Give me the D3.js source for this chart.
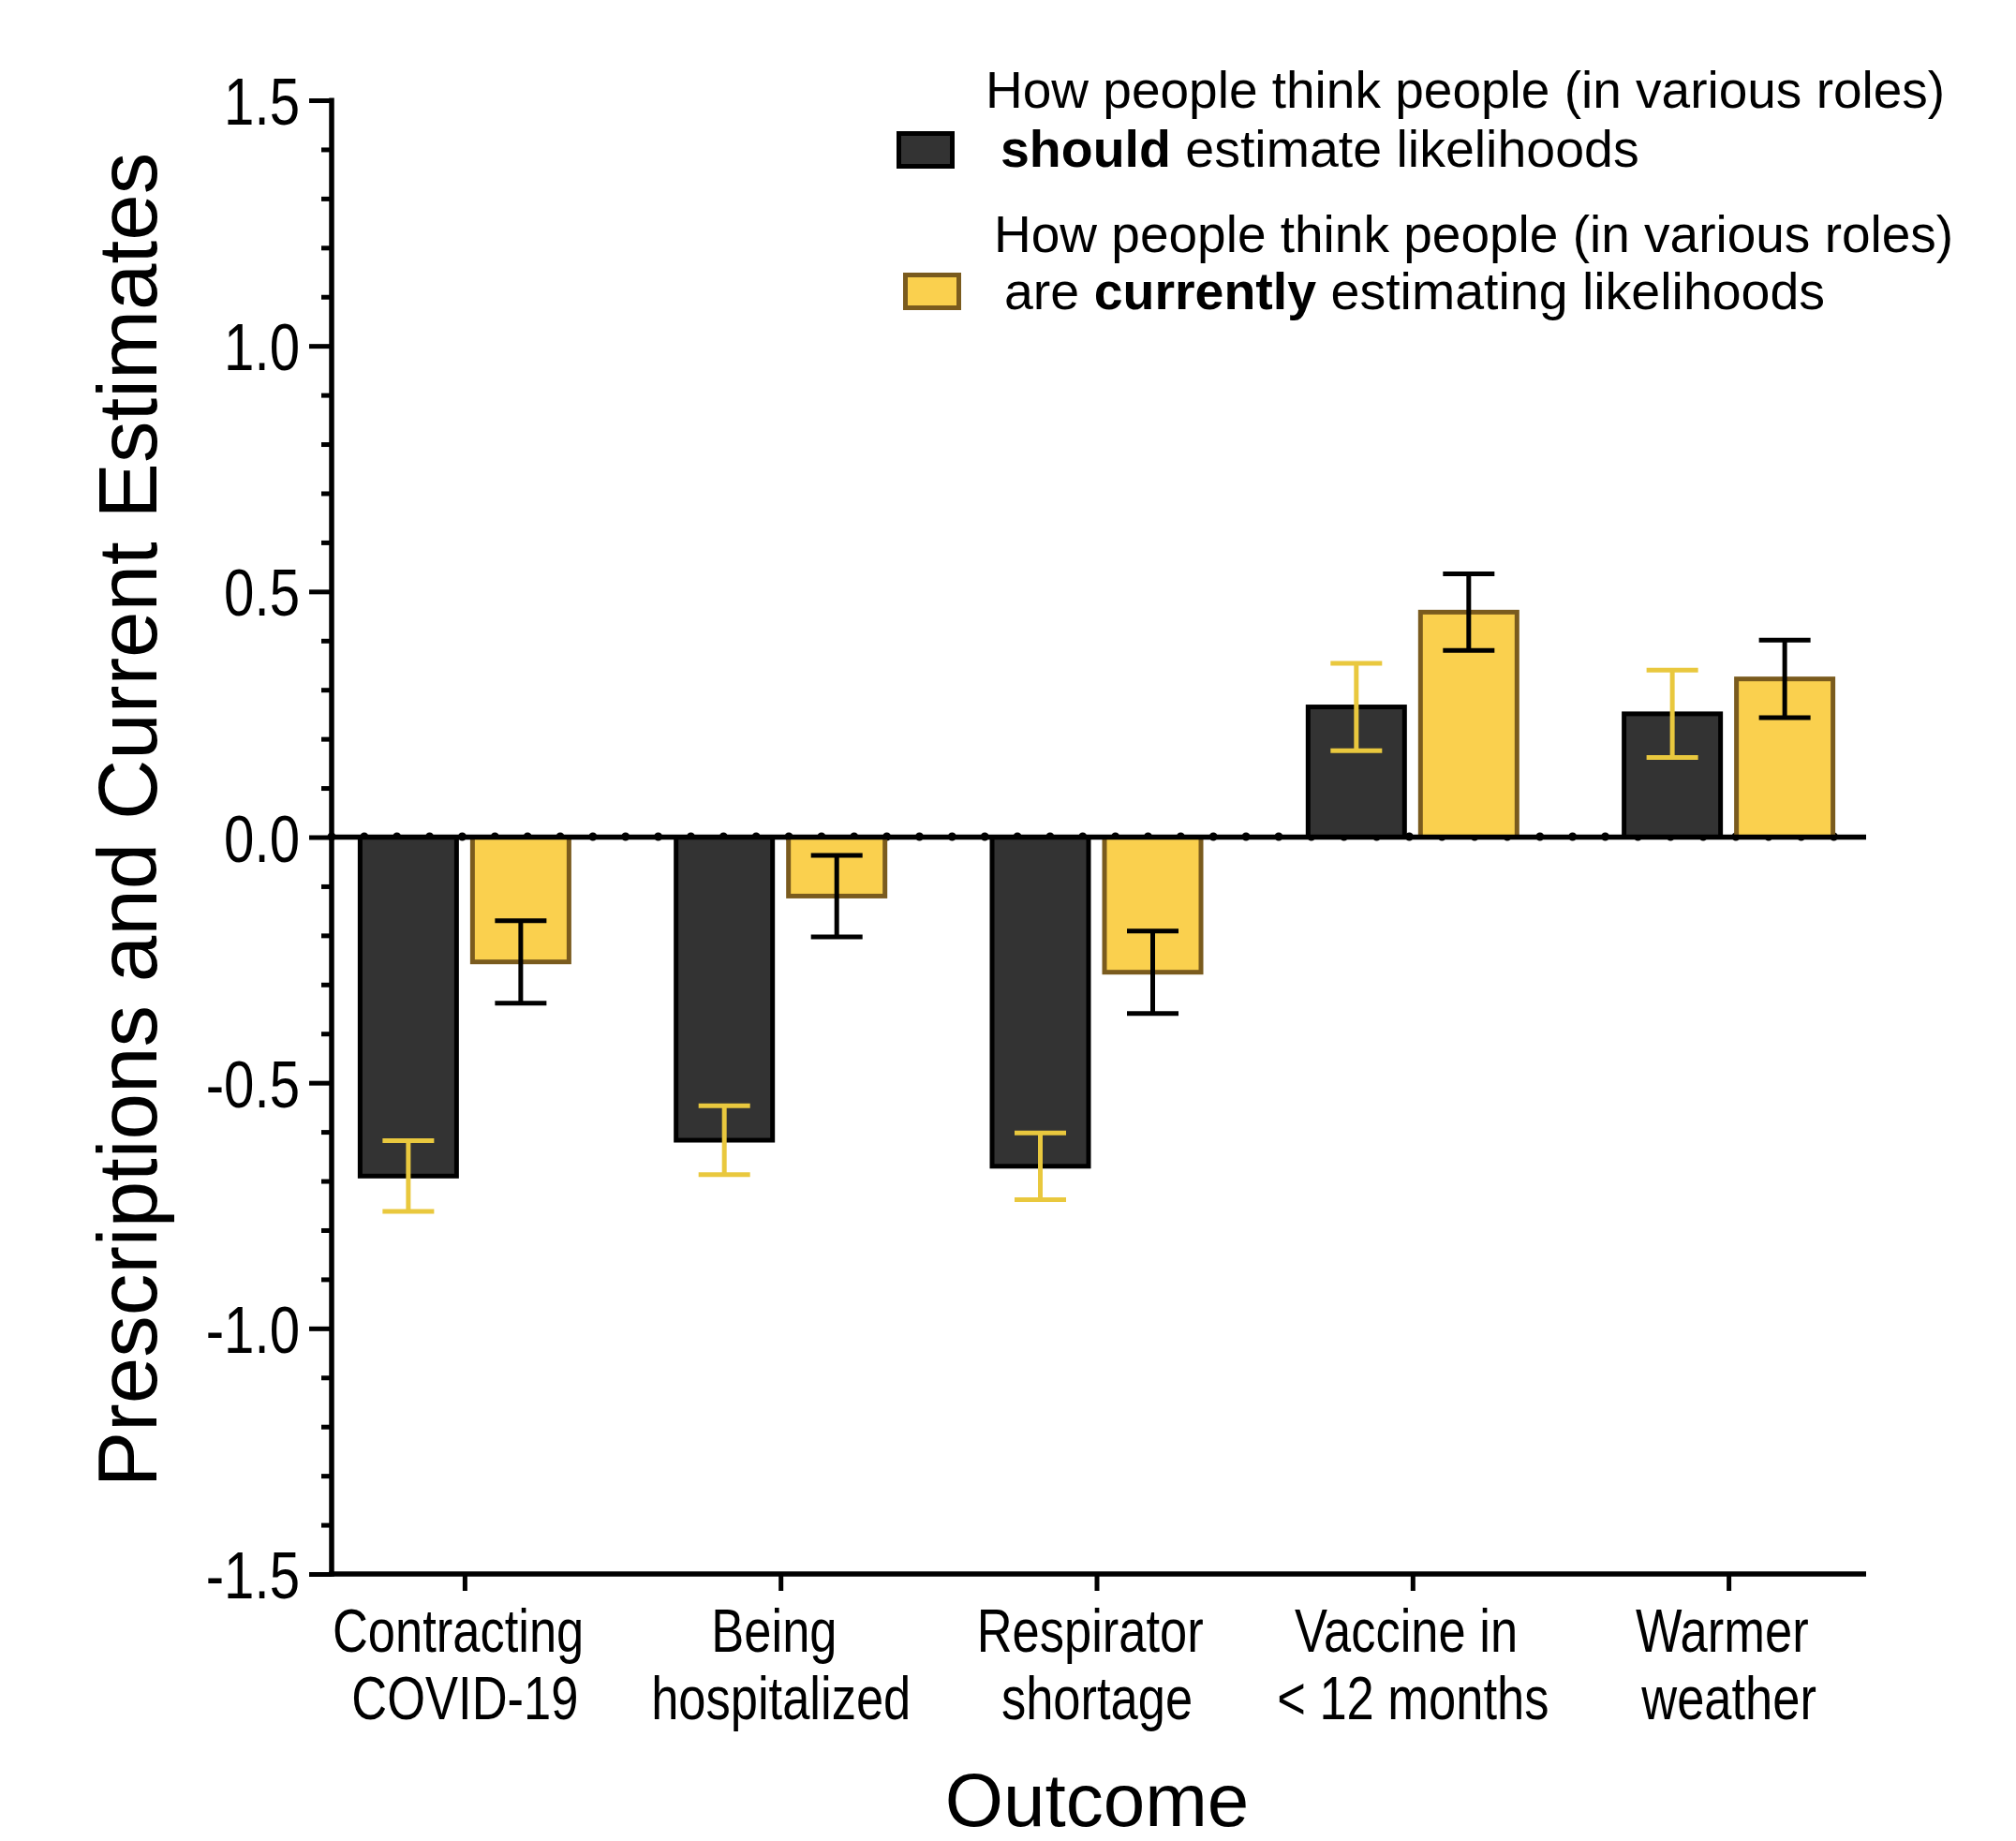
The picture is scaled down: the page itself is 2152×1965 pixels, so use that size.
<!DOCTYPE html>
<html>
<head>
<meta charset="utf-8">
<script src="https://cdn.jsdelivr.net/npm/d3@7"></script>
<style>
  html, body { margin: 0; padding: 0; background: #fff; }
  svg { display: block; }
</style>
</head>
<body>
<svg id="chart" width="2152" height="1965"></svg>
<script>
// ---------------- data ----------------
const categories = ["Contracting \nCOVID-19", "Being \nhospitalized", "Respirator \nshortage", "Vaccine in \n< 12 months", "Warmer \nweather"];
const seriesNames = ["should", "current"];
const shouldValues = [-0.69, -0.617, -0.67, 0.265, 0.251];
const shouldErrors = [0.072, 0.070, 0.068, 0.089, 0.089];
const currentValues = [-0.254, -0.12, -0.275, 0.458, 0.322];
const currentErrors = [0.084, 0.083, 0.084, 0.078, 0.079];
const yMajorTicks = [-1.5, -1.0, -0.5, 0.0, 0.5, 1.0, 1.5];
const yMinorStep = 0.1;
const yDomain = [-1.5, 1.5];
const yTitle = "Prescriptions and Current Estimates";
const xTitle = "Outcome";
const legendItems = [
  { key: "should", line1: "How people think people (in various roles)", pre: "", bold: "should", post: " estimate likelihoods" },
  { key: "current", line1: "How people think people (in various roles)", pre: "are ", bold: "currently", post: " estimating likelihoods" }
];

(function () {
// ---------------- styles ----------------
const colors = {
  should: { fill: "#333333", stroke: "#000000", err: "#E9C83E" },
  current: { fill: "#FAD04E", stroke: "#7A5B1E", err: "#000000" }
};
const SANS = "'Liberation Sans', Arial, sans-serif";
const NARROW = "'Liberation Sans Narrow', 'Arial Narrow', 'Liberation Sans', Arial, sans-serif";

// detect narrow font
const cv = document.createElement("canvas").getContext("2d");
cv.font = "64px 'Liberation Sans Narrow', 'Liberation Sans'";
const wN = cv.measureText("Contracting COVID").width;
cv.font = "64px 'Liberation Sans'";
const wR = cv.measureText("Contracting COVID").width;
const narrowAvailable = wN < wR * 0.92;
const narrowScale = narrowAvailable ? 1 : 0.82;

function squeeze(sel) {
  if (narrowScale === 1) return;
  sel.each(function () {
    const t = d3.select(this);
    const x0 = +t.attr("x") || 0;
    t.attr("transform", `translate(${x0},0) scale(${narrowScale},1) translate(${-x0},0)`);
  });
}

const svg = d3.select("#chart");
svg.append("rect").attr("width", 2152).attr("height", 1965).attr("fill", "#fff");

// ---------------- scales ----------------
const pLeft = 354, pRight = 1992, pTop = 107, pBottom = 1680;
const y = d3.scaleLinear().domain(yDomain).range([pBottom, pTop]);
const x = d3.scalePoint().domain(categories).range([pLeft - 2.5, pRight - 2.5]).padding(0.428);
const xInner = d3.scaleBand().domain(seriesNames).range([-114, 114]).paddingInner(0.1);
const barStroke = 5;

const data = categories.map((c, i) => ({
  cat: c,
  vals: [
    { s: "should", v: shouldValues[i], e: shouldErrors[i] },
    { s: "current", v: currentValues[i], e: currentErrors[i] }
  ]
}));

// ---------------- dotted zero line (under bars) ----------------
svg.append("line")
  .attr("x1", pLeft).attr("x2", pRight)
  .attr("y1", y(0) - 0.5).attr("y2", y(0) - 0.5)
  .attr("stroke", "#000").attr("stroke-width", 9)
  .attr("stroke-linecap", "round")
  .attr("stroke-dasharray", "0 34.86");

// ---------------- bars ----------------
const groups = svg.append("g").selectAll("g").data(data).join("g")
  .attr("transform", d => `translate(${x(d.cat)},0)`);

groups.selectAll("rect").data(d => d.vals).join("rect")
  .attr("x", d => xInner(d.s) + barStroke / 2)
  .attr("width", xInner.bandwidth() - barStroke)
  .attr("y", d => Math.min(y(d.v), y(0)))
  .attr("height", d => Math.abs(y(d.v) - y(0)))
  .attr("fill", d => colors[d.s].fill)
  .attr("stroke", d => colors[d.s].stroke)
  .attr("stroke-width", barStroke);

// zero line on top
svg.append("line")
  .attr("x1", pLeft).attr("x2", pRight)
  .attr("y1", y(0)).attr("y2", y(0))
  .attr("stroke", "#000").attr("stroke-width", 5.5);

// ---------------- error bars ----------------
const capHalf = 27.5;
const eb = groups.selectAll("g.err").data(d => d.vals).join("g").attr("class", "err")
  .attr("stroke", d => colors[d.s].err).attr("stroke-width", 5).attr("fill", "none");
const cx = d => xInner(d.s) + xInner.bandwidth() / 2;
eb.append("line")
  .attr("x1", cx).attr("x2", cx)
  .attr("y1", d => y(d.v - d.e)).attr("y2", d => y(d.v + d.e));
eb.append("line")
  .attr("x1", d => cx(d) - capHalf).attr("x2", d => cx(d) + capHalf)
  .attr("y1", d => y(d.v + d.e)).attr("y2", d => y(d.v + d.e));
eb.append("line")
  .attr("x1", d => cx(d) - capHalf).attr("x2", d => cx(d) + capHalf)
  .attr("y1", d => y(d.v - d.e)).attr("y2", d => y(d.v - d.e));

// ---------------- y axis ----------------
const minorTicks = d3.range(yDomain[0], yDomain[1] + 1e-9, yMinorStep)
  .filter(v => !yMajorTicks.some(m => Math.abs(m - v) < 1e-6));
const yMinor = svg.append("g").attr("transform", `translate(${pLeft},0)`)
  .call(d3.axisLeft(y).tickValues(minorTicks).tickSize(11).tickFormat(""));
const yAxis = svg.append("g").attr("transform", `translate(${pLeft},0)`)
  .call(d3.axisLeft(y).tickValues(yMajorTicks).tickSize(24).tickPadding(10)
    .tickFormat(d => d.toFixed(1)));
[yMinor, yAxis].forEach(g => {
  g.select(".domain").remove();
  g.selectAll(".tick line").attr("stroke", "#000").attr("stroke-width", 5);
});
yAxis.selectAll(".tick text")
  .attr("font-family", NARROW).attr("font-size", 71).attr("fill", "#000")
  .attr("dy", "0.36em")
  .call(squeeze);
svg.append("line").attr("x1", pLeft).attr("x2", pLeft)
  .attr("y1", pTop - 2.5).attr("y2", pBottom + 2.75)
  .attr("stroke", "#000").attr("stroke-width", 5.5);

// ---------------- x axis ----------------
const xAxis = svg.append("g").attr("transform", `translate(0,${pBottom})`)
  .call(d3.axisBottom(x).tickSize(18).tickFormat(""));
xAxis.select(".domain").remove();
xAxis.selectAll(".tick line").attr("stroke", "#000").attr("stroke-width", 5);
svg.append("line").attr("x1", pLeft - 2.75).attr("x2", pRight)
  .attr("y1", pBottom).attr("y2", pBottom)
  .attr("stroke", "#000").attr("stroke-width", 5.5);

const xLabels = xAxis.selectAll(".tick").append("text")
  .attr("font-family", NARROW).attr("font-size", 64).attr("fill", "#000")
  .attr("text-anchor", "middle")
  .style("white-space", "pre");
xLabels.each(function (d) {
  const t = d3.select(this);
  d.split("\n").forEach((line, i) => {
    t.append("tspan").attr("x", 0).attr("y", 83 + i * 72).text(line);
  });
});
xLabels.call(squeeze);

// ---------------- titles ----------------
svg.append("text")
  .attr("transform", `translate(167,875) rotate(-90)`)
  .attr("text-anchor", "middle")
  .attr("font-family", SANS).attr("font-size", 89).attr("fill", "#000")
  .text(yTitle);
svg.append("text")
  .attr("x", 1171).attr("y", 1949)
  .attr("text-anchor", "middle")
  .attr("font-family", SANS).attr("font-size", 80).attr("fill", "#000")
  .text(xTitle);

// ---------------- legend ----------------
const legendPos = [
  { rx: 957, ry: 140, tx1: 1052, b1: 115, tx2: 1068, b2: 178 },
  { rx: 964, ry: 291, tx1: 1061, b1: 269, tx2: 1072, b2: 330 }
];
const legend = svg.append("g").selectAll("g").data(legendItems).join("g");
legend.append("rect")
  .attr("x", (d, i) => legendPos[i].rx + 2.5).attr("y", (d, i) => legendPos[i].ry + 2.5)
  .attr("width", 57).attr("height", 35)
  .attr("fill", d => colors[d.key].fill)
  .attr("stroke", d => colors[d.key].stroke).attr("stroke-width", 5);
legend.append("text")
  .attr("x", (d, i) => legendPos[i].tx1).attr("y", (d, i) => legendPos[i].b1)
  .attr("font-family", SANS).attr("font-size", 55).attr("fill", "#000")
  .text(d => d.line1);
const l2 = legend.append("text")
  .attr("x", (d, i) => legendPos[i].tx2).attr("y", (d, i) => legendPos[i].b2)
  .attr("font-family", SANS).attr("font-size", 55.5).attr("fill", "#000")
  .style("white-space", "pre");
l2.append("tspan").text(d => d.pre);
l2.append("tspan").attr("font-weight", "bold").text(d => d.bold);
l2.append("tspan").text(d => d.post);
})();
</script>
</body>
</html>
